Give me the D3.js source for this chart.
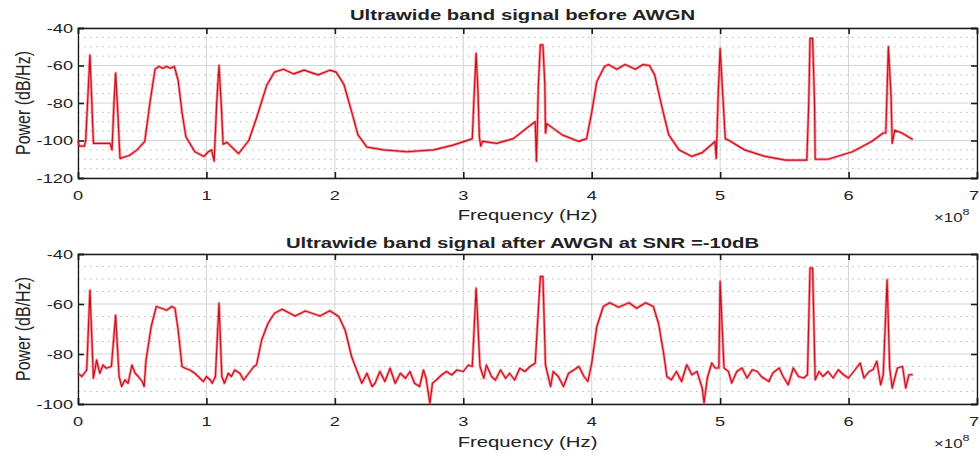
<!DOCTYPE html>
<html>
<head>
<meta charset="utf-8">
<script src="https://cdn.jsdelivr.net/npm/d3@7"></script>
<style>
  html, body { margin: 0; padding: 0; background: #ffffff; }
  svg { display: block; }
  text { font-family: "Liberation Sans", Arial, sans-serif; fill: #222; }
</style>
</head>
<body>
<svg id="chart" width="980" height="457"></svg>
<script>
// ---------- data (frequency in units of 1e8 Hz, power in dB/Hz) ----------
const freqBefore = [0.00,0.01,0.05,0.06,0.07,0.093,0.105,0.12,0.25,0.265,0.28,0.293,0.31,0.327,0.40,0.46,0.52,0.56,0.60,0.63,0.66,0.69,0.72,0.75,0.78,0.81,0.84,0.91,0.98,1.015,1.04,1.06,1.08,1.098,1.115,1.13,1.16,1.25,1.33,1.39,1.47,1.53,1.60,1.68,1.76,1.87,1.96,2.01,2.07,2.13,2.18,2.25,2.38,2.56,2.77,2.92,3.05,3.07,3.085,3.10,3.115,3.125,3.136,3.15,3.26,3.39,3.52,3.56,3.57,3.585,3.60,3.62,3.635,3.64,3.65,3.77,3.90,3.96,4.00,4.04,4.10,4.13,4.195,4.26,4.34,4.40,4.45,4.49,4.55,4.60,4.68,4.78,4.86,4.96,4.97,4.985,5.00,5.02,5.04,5.07,5.19,5.35,5.51,5.675,5.69,5.70,5.72,5.735,5.74,5.84,6.03,6.18,6.27,6.29,6.31,6.33,6.34,6.36,6.415,6.50];
const powerBefore = [-100,-103,-103,-100,-86,-54.5,-75,-101.5,-101.5,-105,-80,-64,-85,-109.5,-108,-105,-100.5,-80,-62,-60.5,-61.5,-60.5,-61.5,-60.5,-68,-85,-98,-106,-108.5,-106,-105,-111,-80,-60,-80,-102,-101,-107,-100,-88,-70.5,-63.5,-62,-64.5,-62.5,-65,-62.5,-63.5,-70,-84.5,-97,-103.5,-105,-106,-105,-102.5,-99.5,-99,-75,-53.5,-75,-98,-103,-100.5,-101.5,-99,-92,-90,-111,-70,-49,-49,-70,-96,-91,-97,-100.5,-99,-85,-68.5,-60.5,-59.5,-62,-59.5,-62,-59.5,-60,-65,-83,-97,-105,-108.5,-106.5,-100.5,-109.5,-75,-51,-75,-99,-100,-105,-108.5,-110.5,-110.5,-80,-45.5,-45.5,-80,-110,-110,-106,-100.5,-96,-96,-50,-75,-101.5,-94.5,-96,-99.5];

const freqAfter = [0.00,0.03,0.068,0.093,0.12,0.145,0.17,0.195,0.22,0.26,0.293,0.32,0.34,0.365,0.39,0.42,0.445,0.47,0.50,0.515,0.53,0.57,0.61,0.65,0.69,0.73,0.755,0.78,0.81,0.835,0.87,0.91,0.95,0.976,1.00,1.03,1.045,1.07,1.098,1.12,1.14,1.17,1.195,1.22,1.26,1.29,1.33,1.37,1.39,1.43,1.48,1.53,1.59,1.69,1.77,1.885,1.96,2.03,2.08,2.13,2.17,2.21,2.25,2.29,2.313,2.35,2.39,2.43,2.47,2.51,2.55,2.585,2.62,2.66,2.69,2.71,2.74,2.76,2.79,2.83,2.87,2.91,2.95,3.00,3.04,3.07,3.10,3.13,3.16,3.18,3.22,3.25,3.29,3.33,3.36,3.40,3.44,3.48,3.52,3.56,3.60,3.62,3.64,3.68,3.70,3.74,3.78,3.82,3.86,3.90,3.94,3.97,4.00,4.04,4.09,4.14,4.21,4.29,4.35,4.42,4.48,4.52,4.56,4.585,4.62,4.66,4.70,4.74,4.78,4.82,4.86,4.875,4.90,4.935,4.96,4.99,5.00,5.03,5.065,5.09,5.13,5.17,5.21,5.25,5.29,5.32,5.38,5.41,5.46,5.49,5.53,5.57,5.61,5.65,5.68,5.70,5.72,5.74,5.77,5.80,5.84,5.88,5.92,5.96,6.00,6.04,6.09,6.12,6.16,6.19,6.22,6.25,6.27,6.30,6.32,6.34,6.38,6.42,6.445,6.47,6.50];
const powerAfter = [-87.7,-89,-86.4,-54.5,-89.7,-82.4,-87.7,-84.4,-85.7,-85,-64.5,-89,-93,-90.4,-91.7,-84.4,-87.7,-89,-91,-93,-82.4,-69,-61,-61.7,-62.5,-61,-61.7,-70.4,-85,-85.7,-86.4,-87.7,-89.7,-91,-89,-90.4,-91.7,-89,-59.7,-89,-91.7,-87.7,-89,-86.4,-87.7,-90.4,-87.7,-85,-84.4,-74.4,-67.7,-63.7,-62.1,-64.8,-62.8,-64.8,-62.7,-65,-70.4,-81,-86.4,-91.7,-87.7,-93,-91.7,-87,-91,-85.7,-91.7,-87.7,-89.7,-87,-91.7,-93,-86.4,-89.7,-99.7,-91.7,-90.4,-88.4,-87,-88.4,-86.4,-87,-84.4,-85,-53.7,-85,-89.7,-84.4,-89,-90.4,-86.4,-89.7,-87.7,-90.4,-85.7,-87,-85,-83.7,-49,-49,-84.4,-93,-87,-89,-93,-87.7,-86.4,-85,-89,-91,-83.7,-69,-61,-59.5,-61.3,-59.5,-61.7,-59.5,-61,-67.7,-79.7,-89,-90.3,-87,-91,-84.3,-88.3,-87,-93.6,-99.6,-89.6,-83.6,-85.6,-85.6,-51,-85.6,-87,-91.6,-87,-85.6,-89.6,-86.3,-87,-89,-91,-87.6,-85.6,-89,-92.3,-85.6,-89,-89.6,-88.3,-45.6,-45.6,-90.3,-87,-89,-87,-89.6,-86.3,-88.3,-89.6,-87,-83.6,-89.6,-87,-86.3,-82.9,-92.3,-88.3,-50.3,-85.6,-93.6,-85.6,-85,-93.6,-88.3,-88.3];

const xTicks = [0,1,2,3,4,5,6,7];
const yTicksBefore = [-120,-100,-80,-60,-40];
const yTicksAfter = [-100,-80,-60,-40];
const titles = ["Ultrawide band signal before AWGN", "Ultrawide band signal after AWGN at SNR =-10dB"];
const xLabel = "Frequency (Hz)";
const yLabel = "Power (dB/Hz)";

// ---------- layout ----------
const svg = d3.select("#chart");
const SX = 1.4; // horizontal stretch of the original's text
const left = 78, right = 977;

const panels = [
  {top: 28, bottom: 178, yDom: [-120, -40], yTicks: yTicksBefore, f: freqBefore, p: powerBefore, title: titles[0],
   titleY: 20, tickY: 200, labelY: 220, expY: 222, ylabY: 103},
  {top: 254, bottom: 404, yDom: [-100, -40], yTicks: yTicksAfter, f: freqAfter, p: powerAfter, title: titles[1],
   titleY: 248, tickY: 426, labelY: 447, expY: 448, ylabY: 329}
];

function stext(g, x, y, str, size, anchor, weight) {
  return g.append("text")
    .attr("transform", `translate(${x},${y}) scale(${SX},1)`)
    .attr("text-anchor", anchor)
    .attr("font-size", size)
    .attr("font-weight", weight || "normal")
    .text(str);
}

panels.forEach(P => {
  const x = d3.scaleLinear().domain([0, 7]).range([left, right]);
  const y = d3.scaleLinear().domain(P.yDom).range([P.bottom, P.top]);
  const g = svg.append("g");

  // minor grid (horizontal, step 5)
  const minor = d3.range(P.yDom[0], P.yDom[1] + 0.01, 5).filter(v => v % 20 !== 0);
  g.selectAll(null).data(minor).join("line")
    .attr("x1", left).attr("x2", right)
    .attr("y1", d => y(d)).attr("y2", d => y(d))
    .attr("stroke", "#b8b8b8").attr("stroke-width", 1)
    .attr("stroke-dasharray", "1.5,4.5");

  // major grid
  g.selectAll(null).data(P.yTicks).join("line")
    .attr("x1", left).attr("x2", right)
    .attr("y1", d => y(d)).attr("y2", d => y(d))
    .attr("stroke", "#d4d4d4").attr("stroke-width", 1);
  g.selectAll(null).data(xTicks).join("line")
    .attr("x1", d => x(d)).attr("x2", d => x(d))
    .attr("y1", P.top).attr("y2", P.bottom)
    .attr("stroke", "#d4d4d4").attr("stroke-width", 1);

  // axes via d3 (ticks inward)
  const axB = d3.axisBottom(x).tickValues(xTicks).tickSize(-6).tickFormat("");
  const axT = d3.axisTop(x).tickValues(xTicks).tickSize(-6).tickFormat("");
  const axL = d3.axisLeft(y).tickValues(P.yTicks).tickSize(-6).tickFormat("");
  const axR = d3.axisRight(y).tickValues(P.yTicks).tickSize(-6).tickFormat("");
  [[axB, `translate(0,${P.bottom})`], [axT, `translate(0,${P.top})`],
   [axL, `translate(${left},0)`], [axR, `translate(${right},0)`]].forEach(([ax, tr]) => {
    const a = g.append("g").attr("transform", tr).call(ax);
    a.select(".domain").attr("stroke", "#1a1a1a").attr("stroke-width", 1.3);
    a.selectAll(".tick line").attr("stroke", "#1a1a1a").attr("stroke-width", 1.6);
  });

  // tick labels (last one kept inside the window)
  xTicks.forEach((t, i) => {
    if (i === xTicks.length - 1) stext(g, 979, P.tickY, String(t), 13, "end");
    else stext(g, x(t), P.tickY, String(t), 13, "middle");
  });
  P.yTicks.forEach(t => stext(g, left - 5, y(t) + 4.5, String(t), 13, "end"));

  // line
  const pts = P.f.map((f, i) => [f, P.p[i]]);
  const line = d3.line().x(d => x(d[0])).y(d => y(d[1]));
  g.append("path").datum(pts).attr("d", line)
    .attr("fill", "none").attr("stroke", "#ff2a3a").attr("stroke-opacity", 0.5)
    .attr("stroke-width", 2.8).attr("stroke-linejoin", "round");
  g.append("path").datum(pts).attr("d", line)
    .attr("fill", "none").attr("stroke", "#c4121f")
    .attr("stroke-width", 1.2).attr("stroke-linejoin", "round");

  // titles and labels
  stext(g, (left + right) / 2 - 5, P.titleY, P.title, 14.5, "middle", "bold");
  stext(g, (left + right) / 2, P.labelY, xLabel, 14.5, "middle");
  g.append("text")
    .attr("transform", `translate(30,${P.ylabY}) scale(1.3,1) rotate(-90)`)
    .attr("text-anchor", "middle").attr("font-size", 16)
    .text(yLabel);

  // exponent label
  const ex = g.append("text").attr("transform", `translate(934,${P.expY}) scale(${SX},1)`)
    .attr("font-size", 12);
  ex.append("tspan").text("\u00d710");
  ex.append("tspan").attr("font-size", 9).attr("dy", -7).text("8");
});
</script>
</body>
</html>
